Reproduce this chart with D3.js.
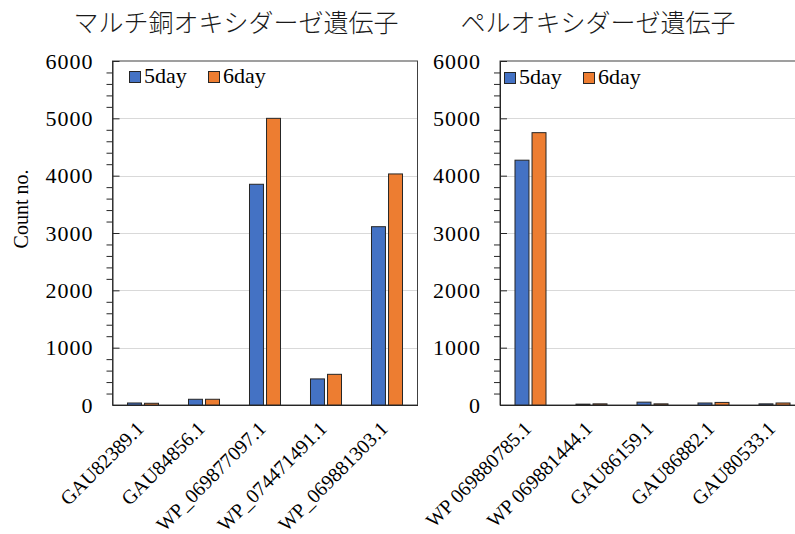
<!DOCTYPE html>
<html>
<head>
<meta charset="utf-8">
<script src="https://cdn.jsdelivr.net/npm/d3@7"></script>
<style>
  body { margin: 0; background: #fff; }
  svg { display: block; }
</style>
</head>
<body>
<script>
// Series and axis
const seriesNames = ["5day", "6day"];
const seriesColors = ["#4472C4", "#ED7D31"];
const yTicks = [0, 1000, 2000, 3000, 4000, 5000, 6000];
const yMinorStep = 200;

// Multicopper oxidase genes
const mcoTitle = "マルチ銅オキシダーゼ遺伝子";
const mcoCategories = ["GAU82389.1", "GAU84856.1", "WP_069877097.1", "WP_074471491.1", "WP_069881303.1"];
const mco5day = [35, 100, 3850, 455, 3110];
const mco6day = [30, 100, 5000, 535, 4030];

// Peroxidase genes
const poxTitle = "ペルオキシダーゼ遺伝子";
const poxCategories = ["WP 069880785.1", "WP 069881444.1", "GAU86159.1", "GAU86882.1", "GAU80533.1"];
const pox5day = [4270, 15, 50, 35, 20];
const pox6day = [4750, 20, 20, 45, 35];

const yTitle = "Count no.";

const W = 795, H = 534;
const serif = "'Times New Roman', 'Liberation Serif', serif";
const cjk = "'Noto Sans CJK JP', 'Noto Sans CJK SC', sans-serif";

const svg = d3.select("body").append("svg")
  .attr("width", W).attr("height", H)
  .attr("viewBox", `0 0 ${W} ${H}`);

const plotTop = 61, plotBottom = 405;
const y = d3.scaleLinear().domain([0, 6000]).range([plotBottom, plotTop]);

function drawPanel(cats, s5, s6, opt) {
  const g = svg.append("g");
  const rows = cats.map((c, i) => ({ cat: c, values: [s5[i], s6[i]] }));

  const x0 = d3.scaleBand().domain(cats).range([opt.left, opt.right]).padding(0);
  const x1 = d3.scaleBand().domain(seriesNames).range([0, x0.bandwidth()])
    .paddingInner(0.18).paddingOuter(0.88);
  const color = d3.scaleOrdinal().domain(seriesNames).range(seriesColors);

  // horizontal gridlines
  g.append("g").selectAll("line")
    .data(yTicks.filter(d => d > 0 && d < 6000))
    .join("line")
    .attr("x1", opt.left).attr("x2", opt.right)
    .attr("y1", d => Math.round(y(d)) + 0.5).attr("y2", d => Math.round(y(d)) + 0.5)
    .attr("stroke", "#d9d9d9").attr("stroke-width", 1);

  // plot frame
  g.append("rect")
    .attr("x", opt.left).attr("y", plotTop)
    .attr("width", opt.right - opt.left).attr("height", plotBottom - plotTop)
    .attr("fill", "none").attr("stroke", "#404040").attr("stroke-width", 1);

  // bars
  g.append("g").selectAll("g")
    .data(rows)
    .join("g")
    .attr("transform", d => `translate(${x0(d.cat)},0)`)
    .selectAll("rect")
    .data(d => d.values.map((v, i) => ({ key: seriesNames[i], value: v })))
    .join("rect")
    .attr("x", d => x1(d.key))
    .attr("width", x1.bandwidth())
    .attr("y", d => y(d.value))
    .attr("height", d => y(0) - y(d.value))
    .attr("fill", d => color(d.key))
    .attr("stroke", "#262626").attr("stroke-width", 1);

  // minor ticks on the value axis
  const minor = d3.range(0, 6001, yMinorStep).filter(v => v % 1000 !== 0);
  g.append("g")
    .attr("transform", `translate(${opt.left},0)`)
    .call(d3.axisLeft(y).tickValues(minor).tickSize(6).tickFormat(""))
    .call(a => a.select(".domain").remove())
    .selectAll("line").attr("stroke", "#262626");

  // major ticks (crossing the axis) and labels
  const ya = g.append("g")
    .attr("transform", `translate(${opt.left},0)`)
    .call(d3.axisLeft(y).tickValues(yTicks).tickFormat(d3.format("d"))
      .tickSize(7).tickSizeOuter(0).tickPadding(12));
  ya.select(".domain").attr("stroke", "#262626");
  ya.selectAll(".tick line").attr("x2", 7).attr("stroke", "#262626");
  ya.selectAll(".tick text")
    .attr("font-family", serif).attr("font-size", 22).attr("letter-spacing", 1)
    .attr("fill", "#000");

  // category axis
  const xa = g.append("g")
    .attr("transform", `translate(0,${plotBottom})`)
    .call(d3.axisBottom(x0).tickSize(0).tickSizeOuter(0));
  xa.select(".domain").attr("stroke", "#262626");
  xa.selectAll(".tick text")
    .attr("font-family", serif).attr("font-size", 20).attr("fill", "#000")
    .attr("text-anchor", "end")
    .attr("y", null).attr("dy", null)
    .attr("transform", "translate(2,25) rotate(-45)");

  // legend
  const lg = g.append("g").attr("transform", `translate(${opt.legendX},${opt.legendY})`);
  const item = lg.selectAll("g").data(seriesNames).join("g")
    .attr("transform", (d, i) => `translate(${i * 79},0)`);
  item.append("rect")
    .attr("x", 0.5).attr("y", -11.5).attr("width", 11).attr("height", 11)
    .attr("fill", d => color(d)).attr("stroke", "#262626").attr("stroke-width", 1);
  item.append("text")
    .attr("x", 15).attr("y", 0)
    .attr("font-family", serif).attr("font-size", 22).attr("fill", "#000")
    .text(d => d);

  // panel title
  g.append("text")
    .attr("x", opt.titleX).attr("y", 32)
    .attr("text-anchor", "middle")
    .attr("font-family", cjk).attr("font-weight", 300).attr("font-size", 25)
    .attr("fill", "#1a1a1a")
    .text(opt.title);
}

drawPanel(mcoCategories, mco5day, mco6day,
  { left: 112.5, right: 417.5, title: mcoTitle, titleX: 236, legendX: 129, legendY: 83 });
drawPanel(poxCategories, pox5day, pox6day,
  { left: 500, right: 805, title: poxTitle, titleX: 598, legendX: 504, legendY: 84 });

// value axis title
svg.append("text")
  .attr("transform", "translate(28,209) rotate(-90)")
  .attr("text-anchor", "middle")
  .attr("font-family", serif).attr("font-size", 20).attr("fill", "#000")
  .text(yTitle);
</script>
</body>
</html>
